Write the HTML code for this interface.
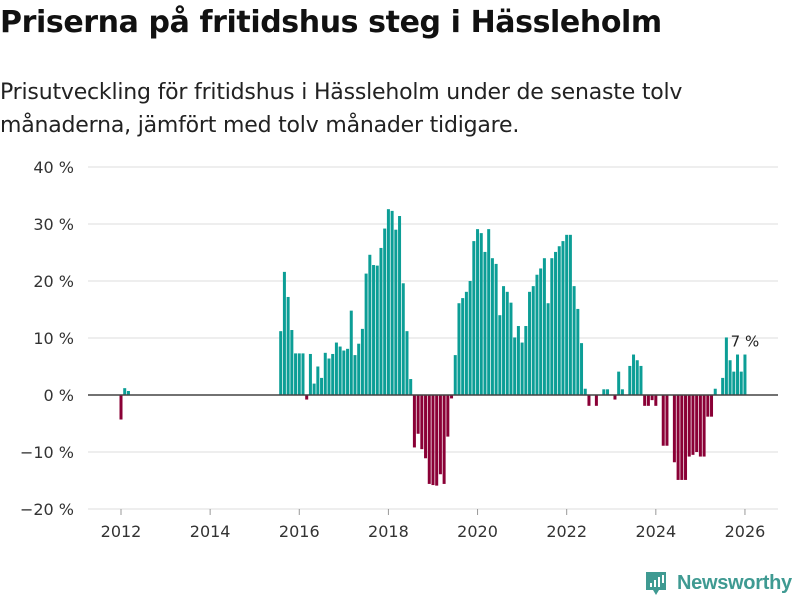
<!DOCTYPE html>
<html><head><meta charset="utf-8">
<style>
body{margin:0;background:#fff;width:800px;height:600px;overflow:hidden;font-family:"Liberation Sans","DejaVu Sans",sans-serif;}
#title{position:absolute;left:0;top:5px;font-size:30px;font-weight:bold;color:#111;font-family:"DejaVu Sans","Liberation Sans",sans-serif;letter-spacing:-0.4px}
#sub{position:absolute;left:0;top:76px;font-size:22px;line-height:33px;color:#222;font-family:"DejaVu Sans","Liberation Sans",sans-serif;letter-spacing:-0.2px}
svg{position:absolute;left:0;top:0}
</style></head><body>
<div id="title">Priserna på fritidshus steg i Hässleholm</div>
<div id="sub">Prisutveckling för fritidshus i Hässleholm under de senaste tolv<br>månaderna, jämfört med tolv månader tidigare.</div>
<svg id="chart" width="800" height="600"></svg>
<script>
const startYear = 2012;
const yTicks = [40, 30, 20, 10, 0, -10, -20];
const xTickYears = [2012, 2014, 2016, 2018, 2020, 2022, 2024, 2026];
const earlyValues = [-4.3, 1.2, 0.7];
const earlyStart = 0;
const midValues = [11.2,21.6,17.2,11.4,7.3,7.3,7.3,-0.8,7.2,2.0,5.0,3.0,7.4,6.4,7.2,9.2,8.5,7.8,8.1,14.8,7.0,9.0,11.6,21.3,24.6,22.8,22.7,25.8,29.2,32.6,32.3,29.0,31.4,19.6,11.2,2.8,-9.2,-6.8,-9.5,-11.1,-15.6,-15.8,-15.9,-13.9,-15.6,-7.3,-0.6];
const midStart = 43;
const lateValues = [7.0,16.1,17.0,18.1,20.0,27.0,29.1,28.4,25.1,29.1,24.0,23.0,14.0,19.1,18.1,16.2,10.1,12.1,9.2,12.1,18.1,19.1,21.1,22.2,24.0,16.1,24.0,25.1,26.1,27.0,28.1,28.1,19.1,15.1,9.1,1.1,-1.9,null,-1.9,null,1.0,1.0,null,-0.8,4.1,1.0,null,5.1,7.1,6.1,5.1,-1.9,-1.9,-0.9,-1.9,null,-8.9,-8.9,null,-11.8,-14.9,-14.9,-14.9,-10.8,-10.5,-10.0,-10.8,-10.8,-3.8,-3.8,1.1,null,3.0,10.1,6.1,4.1,7.1,4.1,7.1];
const lateStart = 90;
const lastLabel = "7 %";

const svg = document.getElementById('chart');
const NS = 'http://www.w3.org/2000/svg';
const X0 = 88, X1 = 778;
function y(v){ return 395 - v * 5.7; }
function x(m){ return 121 + m * 3.714; }
function mk(tag, attrs, parent){ const e = document.createElementNS(NS, tag); for (const k in attrs) e.setAttribute(k, attrs[k]); (parent||svg).appendChild(e); return e; }

yTicks.forEach(t => {
  if (t !== 0) {
    const g = mk('line', {x1:X0, x2:X1, y1:y(t), y2:y(t), stroke:'#dddddd', 'stroke-width':1});
    
    
  }
  const l = mk('text', {x:74, y:y(t)+6, 'text-anchor':'end', 'font-size':16, fill:'#333', 'font-family':'"DejaVu Sans","Liberation Sans",sans-serif'});
  l.textContent = (t < 0 ? '\u2212' + Math.abs(t) : t) + ' %';
  
  
});

xTickYears.forEach(yr => {
  const m = (yr - startYear) * 12;
  const tk = mk('line', {x1:x(m), x2:x(m), y1:509, y2:515, stroke:'#999', 'stroke-width':1});
  
  
  const l = mk('text', {x:x(m), y:537, 'text-anchor':'middle', 'font-size':16, fill:'#333', 'font-family':'"DejaVu Sans","Liberation Sans",sans-serif'});
  l.textContent = yr;
  
  
});

let lastM = 0, lastV = 0;
function drawSeries(vals, start){
  vals.forEach((v, i) => {
    if (v === null) return;
    const m = start + i;
    const top = Math.min(y(v), y(0)), h = Math.abs(y(v) - y(0));
    const b = mk('rect', {x:x(m)-1.5, y:top, width:3, height:h, fill: v >= 0 ? '#0c9e96' : '#8a0036'});
    
    
    lastM = m; lastV = v;
  });
}
drawSeries(earlyValues, earlyStart);
drawSeries(midValues, midStart);
drawSeries(lateValues, lateStart);

const zero = mk('line', {x1:X0, x2:X1, y1:y(0), y2:y(0), stroke:'#444', 'stroke-width':1.5});



const ann = mk('text', {x:x(lastM), y:y(lastV) - 8, 'text-anchor':'middle', 'font-size':15, fill:'#222', 'font-family':'"DejaVu Sans","Liberation Sans",sans-serif'});
ann.textContent = lastLabel;



const logo = mk('g', {});


mk('path', {d:'M646 572 h20 v18 h-7 l-3 5 l-3 -5 h-7 z', fill:'#3f9a92'}, logo);
mk('rect', {x:650, y:583, width:2, height:4, fill:'#fff'}, logo);
mk('rect', {x:654, y:580, width:2, height:7, fill:'#fff'}, logo);
mk('rect', {x:658, y:577, width:2, height:10, fill:'#fff'}, logo);
mk('rect', {x:662, y:575, width:2, height:8, fill:'#fff'}, logo);
const lt = mk('text', {x:677, y:589, 'font-size':20, 'font-weight':'bold', fill:'#3f9a92', 'letter-spacing':'-0.3', 'font-family':'"Liberation Sans","DejaVu Sans",sans-serif'}, logo);
lt.textContent = 'Newsworthy';
</script>
</body></html>
